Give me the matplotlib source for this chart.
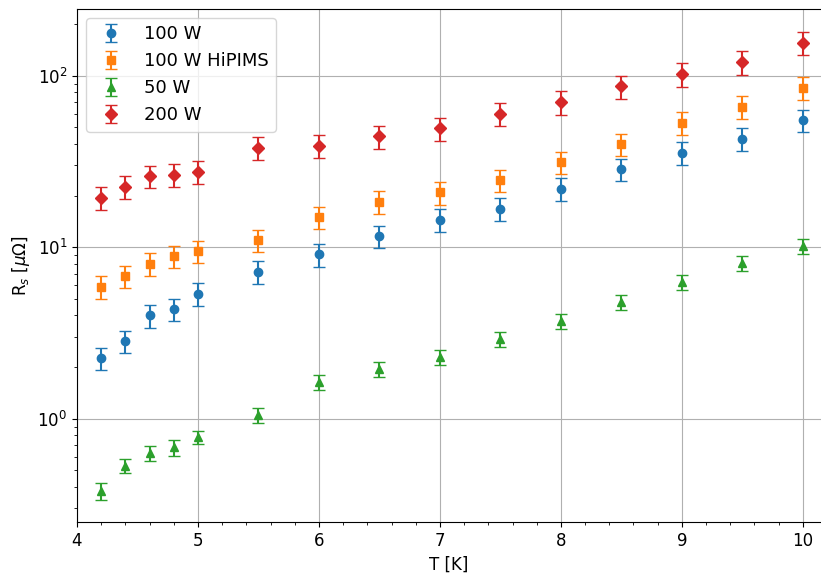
import matplotlib
matplotlib.use("Agg")
import matplotlib.pyplot as plt
from matplotlib.ticker import MultipleLocator

# Temperatures [K]
T = [4.2, 4.4, 4.6, 4.8, 5.0, 5.5, 6.0, 6.5, 7.0, 7.5, 8.0, 8.5, 9.0, 9.5, 10.0]

# Surface resistance [uOhm] and errors
rs_100 = [2.25, 2.85, 4.0, 4.35, 5.35, 7.2, 9.1, 11.6, 14.5, 16.8, 21.9, 28.6, 35.6, 42.9, 55.2]
err_100 = [0.33, 0.42, 0.6, 0.65, 0.8, 1.1, 1.4, 1.7, 2.2, 2.5, 3.3, 4.3, 5.3, 6.4, 8.3]

rs_hipims = [5.9, 6.8, 8.0, 8.9, 9.5, 11.0, 15.0, 18.4, 20.9, 24.6, 31.4, 40.0, 53.2, 65.7, 84.8]
err_hipims = [0.9, 1.0, 1.2, 1.3, 1.4, 1.65, 2.2, 2.8, 3.2, 3.7, 4.7, 6.0, 8.0, 10.0, 13.0]

rs_50 = [0.38, 0.53, 0.63, 0.68, 0.78, 1.05, 1.63, 1.95, 2.28, 2.9, 3.7, 4.8, 6.27, 8.09, 10.2]
err_50 = [0.043, 0.05, 0.06, 0.07, 0.07, 0.1, 0.16, 0.19, 0.23, 0.29, 0.37, 0.48, 0.63, 0.81, 1.03]

rs_200 = [19.5, 22.5, 26.0, 26.5, 27.5, 38.0, 39.0, 44.3, 49.3, 60.0, 70.2, 86.6, 102.0, 120.0, 156.0]
err_200 = [3.0, 3.4, 3.9, 4.0, 4.2, 5.8, 6.0, 6.7, 7.5, 9.0, 11.0, 13.0, 16.5, 19.0, 24.0]

plt.rcParams["font.size"] = 12

fig = plt.figure(figsize=(8.21, 5.76), dpi=100)
ax = fig.add_axes([77 / 821, 54 / 576, 1 - 77 / 821, (567 - 54) / 576])

ax.errorbar(T, rs_100, yerr=err_100, fmt="o", capsize=4, label="100 W", color="tab:blue")
ax.errorbar(T, rs_hipims, yerr=err_hipims, fmt="s", capsize=4, label="100 W HiPIMS", color="tab:orange")
ax.errorbar(T, rs_50, yerr=err_50, fmt="^", capsize=4, label="50 W", color="tab:green")
ax.errorbar(T, rs_200, yerr=err_200, fmt="D", capsize=4, label="200 W", color="tab:red")

ax.set_yscale("log")
ax.set_xlim(4, 10.15)
ax.set_ylim(0.25, 245)
ax.xaxis.set_minor_locator(MultipleLocator(0.2))
ax.spines["right"].set_visible(False)

ax.set_xlabel("T [K]")
ax.set_ylabel(r"R$_s$ [$\mu\Omega$]")
ax.grid(True, which="major")
ax.legend(loc="upper left", fontsize=13)

fig.savefig("out.png", dpi=100)
